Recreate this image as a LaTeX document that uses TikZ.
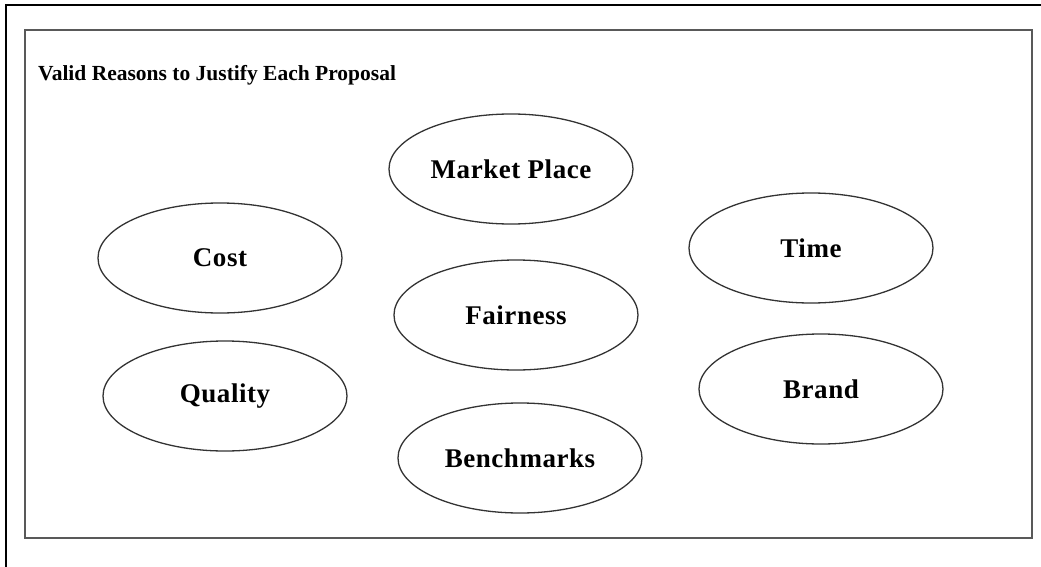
\documentclass[tikz,border=0pt]{standalone}
\usepackage{fontspec}
\setmainfont{Liberation Serif}
\usepackage{tikz}
\usetikzlibrary{shapes.geometric}

\begin{document}
\begin{tikzpicture}[x=1pt, y=-1pt,
    reason/.style={draw=black!80, line width=1.3pt, ellipse, minimum width=244pt, minimum height=110pt, inner sep=0pt, font=\fontsize{27}{31}\selectfont\bfseries\addfontfeatures{LetterSpace=2}}]

        \useasboundingbox (0,0) rectangle (1041,567);

        % Frames
        \draw [line width=2.2pt] (6,567) -- (6,5) -- (1041,5);
        \draw [black!65, line width=2pt] (25,30) rectangle (1032,538);

        % Title
        \node [anchor=base west, inner sep=0pt, font=\fontsize{21.5}{26}\selectfont\bfseries] (title) at (38,81) {Valid Reasons to Justify Each Proposal};

        % Nodes
        \node [reason] (Market) at (511,169) {Market Place};
        \node [reason] (Cost) at (220,258) {Cost};
        \node [reason] (Time) at (811,248) {Time};
        \node [reason] (Fairness) at (516,315) {Fairness};
        \node [reason] (Quality) at (225,396) {Quality};
        \node [reason] (Brand) at (821,389) {Brand};
        \node [reason] (Benchmarks) at (520,458) {Benchmarks};

\end{tikzpicture}
\end{document}
